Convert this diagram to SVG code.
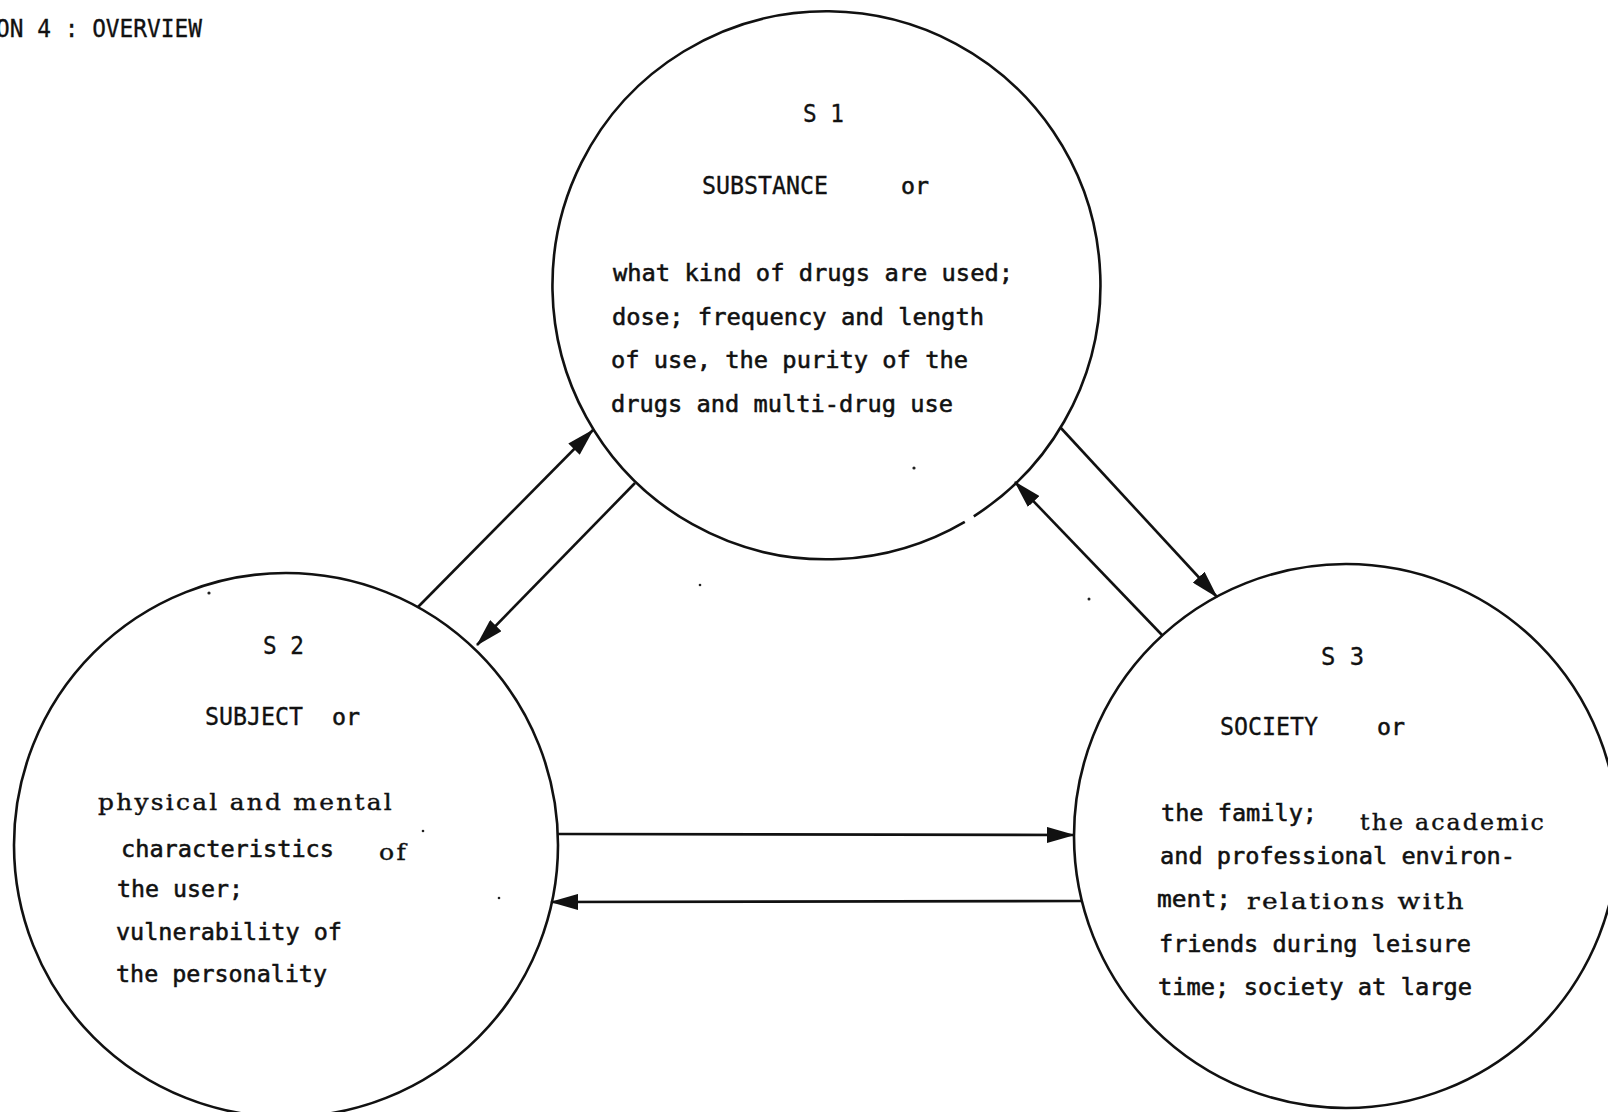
<svg xmlns="http://www.w3.org/2000/svg" width="1608" height="1112" viewBox="0 0 1608 1112">
<style>
  .ring { fill: none; stroke: #111; stroke-width: 2.6; }
  .conn { fill: none; stroke: #111; stroke-width: 2.6; marker-end: url(#ah); }
  .sans { font-family: "DejaVu Sans Mono", "Liberation Mono", monospace; font-size: 23.5px; fill: #111; stroke: #111; stroke-width: 0.55; }
  .cap { font-family: "DejaVu Sans Mono", "Liberation Mono", monospace; font-size: 25.5px; fill: #111; stroke: #111; stroke-width: 0.35; }
  .ser { font-family: "DejaVu Serif", "Liberation Serif", serif; font-size: 22px; fill: #111; stroke: #111; stroke-width: 0.4; }
  .dot { fill: #222; }
</style>
<defs>
  <marker id="ah" viewBox="0 0 28 16" markerWidth="28" markerHeight="16" refX="27" refY="8" orient="auto" markerUnits="userSpaceOnUse">
    <path d="M0,0 L28,8 L0,16 Z" fill="#111"/>
  </marker>
</defs>
<rect x="0" y="0" width="1608" height="1112" fill="#fff"/>

<text class="cap" x="-4" y="37" font-size="27" textLength="206" lengthAdjust="spacingAndGlyphs">ON 4 : OVERVIEW</text>

<g id="s1">
  <path class="ring" d="M973.8,516.3 A274,274 0 1 0 964.8,521.8"/>
  <text class="cap" x="803" y="122" textLength="41" lengthAdjust="spacingAndGlyphs">S 1</text>
  <text class="cap" x="702" y="194" textLength="126" lengthAdjust="spacingAndGlyphs">SUBSTANCE</text>
  <text class="sans" x="901" y="194" textLength="28" lengthAdjust="spacingAndGlyphs">or</text>
  <text class="sans" x="613" y="281" textLength="400" lengthAdjust="spacingAndGlyphs">what kind of drugs are used;</text>
  <text class="sans" x="612" y="325" textLength="372" lengthAdjust="spacingAndGlyphs">dose; frequency and length</text>
  <text class="sans" x="611" y="368" textLength="357" lengthAdjust="spacingAndGlyphs">of use, the purity of the</text>
  <text class="sans" x="611" y="412" textLength="342" lengthAdjust="spacingAndGlyphs">drugs and multi-drug use</text>
</g>

<g id="s2">
  <circle class="ring" cx="286" cy="845" r="272"/>
  <text class="cap" x="263" y="654" textLength="41" lengthAdjust="spacingAndGlyphs">S 2</text>
  <text class="cap" x="205" y="725" textLength="98" lengthAdjust="spacingAndGlyphs">SUBJECT</text>
  <text class="sans" x="332" y="725" textLength="28" lengthAdjust="spacingAndGlyphs">or</text>
  <text class="ser" x="98" y="810" textLength="296" lengthAdjust="spacingAndGlyphs" letter-spacing="2">physical and mental</text>
  <text class="sans" x="121" y="857" textLength="213" lengthAdjust="spacingAndGlyphs">characteristics</text>
  <text class="ser" x="379" y="860" textLength="29" lengthAdjust="spacingAndGlyphs" letter-spacing="2">of</text>
  <text class="sans" x="117" y="897" textLength="126" lengthAdjust="spacingAndGlyphs">the user;</text>
  <text class="sans" x="116" y="940" textLength="226" lengthAdjust="spacingAndGlyphs">vulnerability of</text>
  <text class="sans" x="116" y="982" textLength="211" lengthAdjust="spacingAndGlyphs">the personality</text>
</g>

<g id="s3">
  <circle class="ring" cx="1346" cy="836" r="272"/>
  <text class="cap" x="1321" y="665" textLength="43" lengthAdjust="spacingAndGlyphs">S 3</text>
  <text class="cap" x="1220" y="735" textLength="98" lengthAdjust="spacingAndGlyphs">SOCIETY</text>
  <text class="sans" x="1377" y="735" textLength="28" lengthAdjust="spacingAndGlyphs">or</text>
  <text class="sans" x="1161" y="821" textLength="156" lengthAdjust="spacingAndGlyphs">the family;</text>
  <text class="ser" x="1360" y="830" textLength="186" lengthAdjust="spacingAndGlyphs" letter-spacing="2" stroke-width="0.8">the academic</text>
  <text class="sans" x="1160" y="864" textLength="355" lengthAdjust="spacingAndGlyphs">and professional environ-</text>
  <text class="sans" x="1157" y="907" textLength="74" lengthAdjust="spacingAndGlyphs">ment;</text>
  <text class="ser" x="1247" y="909" textLength="219" lengthAdjust="spacingAndGlyphs" letter-spacing="2">relations with</text>
  <text class="sans" x="1159" y="952" textLength="312" lengthAdjust="spacingAndGlyphs">friends during leisure</text>
  <text class="sans" x="1158" y="995" textLength="314" lengthAdjust="spacingAndGlyphs">time; society at large</text>
</g>

<g id="connectors">
  <path class="conn" d="M418,607 L593,430"/>
  <path class="conn" d="M635,483 L477,645"/>
  <path class="conn" d="M1060,427 L1217,597"/>
  <path class="conn" d="M1162,635 L1015,482"/>
  <path class="conn" d="M558,834 L1074,835"/>
  <path class="conn" d="M1081,901 L551,902"/>
</g>

<g id="specks">
  <circle class="dot" cx="914" cy="468" r="1.6"/>
  <circle class="dot" cx="1089" cy="599" r="1.5"/>
  <circle class="dot" cx="209" cy="593" r="1.6"/>
  <circle class="dot" cx="700" cy="585" r="1.3"/>
  <circle class="dot" cx="423" cy="831" r="1.3"/>
  <circle class="dot" cx="499" cy="898" r="1.3"/>
</g>
</svg>
